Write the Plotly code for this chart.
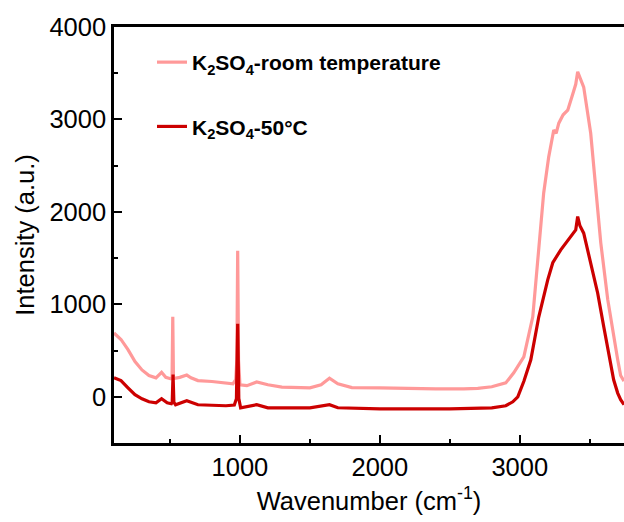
import plotly.graph_objects as go

# Wavenumber (cm-1) and intensity
x_room = [100, 150, 200, 250, 300, 350, 400, 440, 470, 505, 515, 520, 525, 535, 570, 620, 650, 700, 800, 900,
          950, 970, 978, 984, 990, 1000, 1050, 1120, 1200, 1300, 1400, 1500, 1580, 1640, 1700, 1800, 2000,
          2200, 2400, 2600, 2700, 2800, 2900, 2957, 3029, 3093, 3136, 3171, 3207, 3243, 3260, 3279, 3310, 3343,
          3380, 3400, 3414, 3430, 3457, 3507, 3543, 3579, 3629, 3671, 3700, 3721, 3745]
y_room = [690, 620, 510, 380, 290, 230, 205, 265, 210, 195, 210, 865, 210, 200, 210, 235, 205, 175, 165, 150,
          140, 185, 400, 1580, 400, 130, 120, 160, 130, 105, 100, 97, 130, 200, 140, 100, 97,
          90, 86, 86, 90, 108, 150, 260, 432, 865, 1590, 2205, 2595, 2886, 2850, 2960, 3050, 3100,
          3280, 3380, 3515, 3460, 3350, 2850, 2240, 1665, 1050, 640, 400, 230, 170]

x_50 = [100, 150, 200, 250, 300, 350, 400, 440, 480, 510, 516, 522, 528, 540, 620, 700, 900, 960, 975,
        984, 992, 1005, 1120, 1200, 1500, 1640, 1700, 2000, 2500, 2800, 2900, 2950, 2986, 3030, 3079,
        3136, 3200, 3236, 3293, 3350, 3400, 3414, 3430, 3457, 3507, 3557, 3600, 3640, 3671, 3700,
        3721, 3745]
y_50 = [205, 175, 97, 22, -22, -54, -65, -22, -65, -75, -60, 240, -60, -86, -43, -86, -97, -90, -20,
        790, -20, -119, -86, -119, -119, -86, -119, -130, -130, -119, -97, -54, 0, 170, 400,
        865, 1265, 1450, 1590, 1700, 1805, 1950, 1850, 1770, 1450, 1120, 760, 420, 184, 40,
        -32, -86]

fig = go.Figure()
fig.add_trace(go.Scatter(x=x_room, y=y_room, mode="lines",
                         line=dict(color="#FF9999", width=3.2),
                         name="<b>K<sub>2</sub>SO<sub>4</sub>-room temperature</b>",
                         legendgroup="a"))
fig.add_trace(go.Scatter(x=x_50, y=y_50, mode="lines",
                         line=dict(color="#CC0000", width=3.2),
                         name="<b>K<sub>2</sub>SO<sub>4</sub>-50°C</b>",
                         legendgroup="b"))

axis_font = dict(family="Liberation Sans, Arial", size=25.5, color="black")
fig.update_layout(
    width=624, height=522,
    margin=dict(l=114, r=0, t=27, b=79),
    plot_bgcolor="white", paper_bgcolor="white",
    font=axis_font,
    showlegend=True,
    legend=dict(x=0.0745, y=0.964, xanchor="left", yanchor="top",
                bgcolor="rgba(0,0,0,0)", tracegroupgap=34,
                font=dict(family="Liberation Sans, Arial", size=21, color="black")),
    xaxis=dict(range=[100, 3745], showgrid=False, zeroline=False,
               showline=True, linecolor="black", linewidth=2.5, mirror=True,
               ticks="inside", ticklen=8, tickwidth=2, tickcolor="black",
               tickvals=[1000, 2000, 3000],
               minor=dict(ticks="inside", ticklen=4, tickwidth=2, tickcolor="black",
                          tickvals=[500, 1500, 2500, 3500]),
               title=dict(text="Wavenumber (cm<sup>-1</sup>)", font=axis_font, standoff=12),
               tickfont=axis_font),
    yaxis=dict(range=[-500, 4000], showgrid=False, zeroline=False,
               showline=True, linecolor="black", linewidth=2.5, mirror=False,
               ticks="inside", ticklen=8, tickwidth=2, tickcolor="black",
               tickvals=[0, 1000, 2000, 3000, 4000],
               minor=dict(ticks="inside", ticklen=4, tickwidth=2, tickcolor="black",
                          tickvals=[500, 1500, 2500, 3500]),
               title=dict(text="Intensity (a.u.)", font=axis_font, standoff=8),
               tickfont=axis_font),
)
fig.write_html("out.html")
